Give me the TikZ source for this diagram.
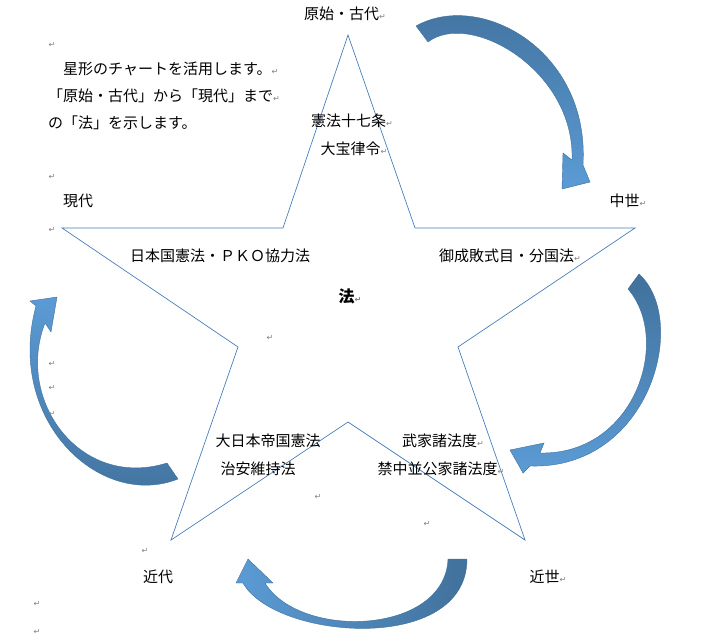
\documentclass[tikz,border=0pt]{standalone}
\usepackage{fontspec}
\newfontfamily\cjk{Noto Sans CJK JP}
\newfontfamily\dejavu{DejaVu Sans}
\definecolor{lineblue}{HTML}{4A7EBB}
\definecolor{darkb}{HTML}{41719C}
\definecolor{lightb}{HTML}{5B9BD5}
\newcommand{\rt}{{\color{gray}\dejavu\fontsize{8}{8}\selectfont ↵}}
\begin{document}
\begin{tikzpicture}[x=1pt,y=-1pt,
  lbl/.style={font=\cjk\fontsize{15}{16}\selectfont, inner sep=0pt, text=black},
  retmark/.style={inner sep=0pt},
  arr/.style={draw=darkb, line width=0.4pt}]
\useasboundingbox (0,0) rectangle (710,642);
% star
\draw[lineblue, line width=0.7pt] (348,35) -- (415,228) -- (635,228) -- (458,347) -- (525,540) -- (348,422) -- (171,540) -- (238,347) -- (62,228) -- (283,228) -- cycle;
% arrows
\path[arr, top color=darkb, bottom color=lightb]
 (416,26) .. controls (480,-10) and (590,50) .. (583,165) -- (590,182) -- (562,189) -- (563,153) -- (572,160) .. controls (575,70) and (470,10) .. (428,42) -- cycle;
\path[arr, top color=darkb, bottom color=lightb]
 (639,274) .. controls (690,320) and (650,470) .. (530,466) -- (523,473) -- (510,450) -- (544,443) -- (540,453) .. controls (635,455) and (672,340) .. (628,289) -- cycle;
\path[arr, left color=lightb, right color=darkb]
 (467,559) .. controls (467,655) and (275,640) .. (243,583) -- (236,583) -- (248,559) -- (273,583) -- (265,583) .. controls (300,640) and (445,635) .. (448,559) -- cycle;
\path[arr, top color=lightb, bottom color=darkb]
 (178,479) .. controls (100,510) and (5,420) .. (36,306) -- (30,301) -- (57,297) -- (51,332) -- (45,323) .. controls (15,400) and (80,490) .. (167,463) -- cycle;
% labels
\node[lbl] (t1) at (345,14) {原始・古代\rt};
\node[lbl] (t2) at (628,201) {中世\rt};
\node[lbl] (t3) at (548,577) {近世\rt};
\node[lbl] (t4) at (158,577) {近代};
\node[lbl] (t5) at (78,201) {現代};
\node[lbl, font=\cjk\bfseries\fontsize{16}{17}\selectfont] (c) at (350,296) {法\rt};
\node[lbl] (a1) at (352,121) {憲法十七条\rt};
\node[lbl] (a2) at (354,149) {大宝律令\rt};
\node[lbl] (b1) at (220,256) {日本国憲法・ＰＫＯ協力法};
\node[lbl] (b2) at (510,256) {御成敗式目・分国法\rt};
\node[lbl] (d1) at (268,441) {大日本帝国憲法};
\node[lbl] (d2) at (258,469) {治安維持法};
\node[lbl] (e1) at (443,441) {武家諸法度\rt};
\node[lbl] (e2) at (441,469) {禁中並公家諸法度\rt};
\node[lbl, anchor=west] (p1) at (63,69) {星形のチャートを活用します。\rt};
\node[lbl, anchor=west] (p2) at (48,96) {「原始・古代」から「現代」まで\rt};
\node[lbl, anchor=west] (p3) at (48,123) {の「法」を示します。};
\foreach \i/\x/\y in {1/52/45,2/52/177,3/52/230,4/270/338,5/52/364,6/52/388,7/52/414,8/318/497,9/427/524,10/145/551,11/37/604,12/37/632}
  \node[retmark] (m\i) at (\x,\y) {\rt};
\end{tikzpicture}
\end{document}
